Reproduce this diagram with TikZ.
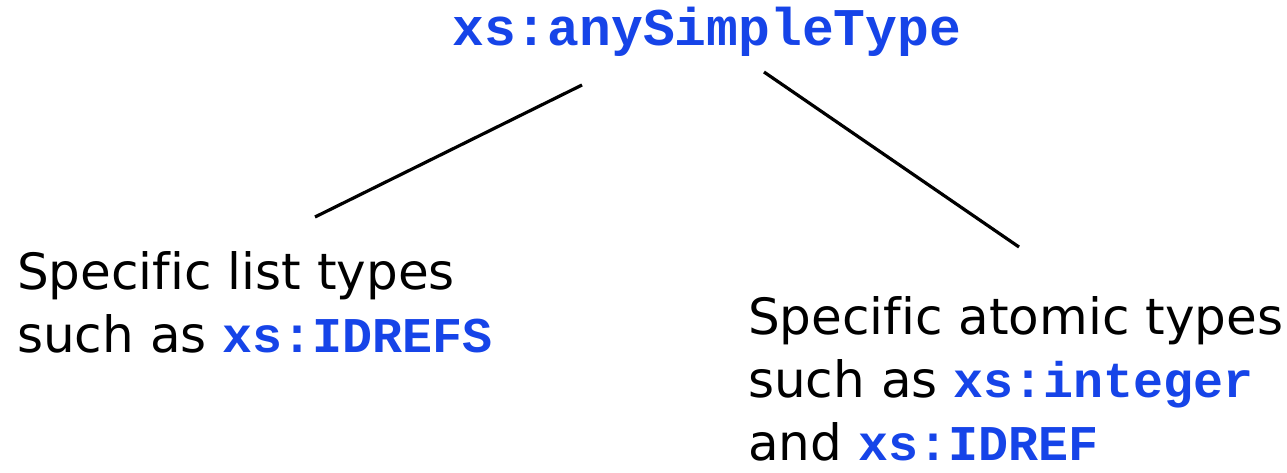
\documentclass[tikz,border=0pt]{standalone}
\usepackage{fontspec}
\setmainfont[Ligatures={NoCommon}]{DejaVu Sans}
\newfontfamily\codefont{Liberation Mono}
\definecolor{codeblue}{RGB}{22,68,232}
\newcommand{\code}[1]{{\codefont\bfseries\color{codeblue}#1}}
\begin{document}
\begin{tikzpicture}[x=1pt,y=-1pt,
  label text/.style={inner sep=0pt, align=left, font=\fontsize{50}{63}\selectfont},
  root text/.style={inner sep=0pt, font=\fontsize{53}{63}\selectfont},
  branch/.style={line width=3.2pt}]
  \useasboundingbox (0,0) rectangle (1287,472);
  % root type
  \node[root text, anchor=base west] (root) at (452,45) {\code{xs:anySimpleType}};
  % derived type groups (anchored at the baseline of their last line)
  \node[label text, anchor=base west] (list) at (17,352)
    {Specific list types\\such as \code{xs:IDREFS}};
  \node[label text, anchor=base west] (atomic) at (748,460)
    {Specific atomic types\\such as \code{xs:integer}\\and \code{xs:IDREF}};
  % branch end points
  \coordinate (rootL) at (582,85);
  \coordinate (rootR) at (764,72);
  \coordinate (listTop) at (315,217);
  \coordinate (atomicTop) at (1019,247);
  \draw[branch] (rootL) -- (listTop);
  \draw[branch] (rootR) -- (atomicTop);
\end{tikzpicture}
\end{document}
